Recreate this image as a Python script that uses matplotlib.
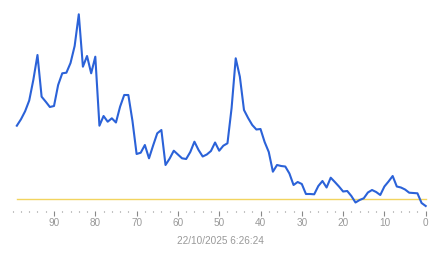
import numpy as np
import matplotlib
matplotlib.use('Agg')
import matplotlib.pyplot as plt
from matplotlib.ticker import MultipleLocator, FixedLocator

ages = list(range(99, -1, -1))
levels = [85.3, 91.7, 99.7, 110.5, 131.2, 156.0, 114.3, 109.3, 104.0, 105.0,
          126.0, 137.7, 138.3, 148.0, 165.0, 196.7, 144.3, 155.0, 137.7, 154.3,
          85.3, 95.0, 89.3, 92.7, 88.5, 104.3, 116.0, 116.0, 90.0, 57.0,
          58.3, 66.0, 52.7, 65.5, 77.7, 81.0, 46.0, 52.4, 60.3, 56.5,
          52.7, 52.0, 59.0, 69.3, 61.0, 54.5, 56.5, 60.0, 68.5, 60.3,
          65.3, 67.7, 103.0, 152.7, 134.3, 101.0, 93.0, 86.0, 81.5, 82.0,
          69.0, 59.0, 39.3, 46.0, 45.0, 44.5, 37.5, 26.0, 29.0, 27.0,
          17.0, 17.0, 16.7, 25.0, 30.0, 23.5, 33.3, 29.0, 24.5, 19.5,
          20.0, 15.0, 8.5, 11.0, 12.7, 18.5, 21.0, 19.0, 16.0, 24.5,
          29.5, 35.0, 24.5, 23.5, 21.5, 18.3, 18.0, 17.7, 8.0, 5.0]
threshold = 11.7
major_ticks = [90, 80, 70, 60, 50, 40, 30, 20, 10, 0]
timestamp = '22/10/2025 6:26:24'

plt.rcParams['font.family'] = ['Liberation Sans', 'DejaVu Sans']

fig = plt.figure(figsize=(4.43, 2.58), dpi=100)
ax = fig.add_axes([12 / 443, 47 / 258, 418 / 443, 206 / 258])

ax.plot(ages, [threshold] * len(ages), color='#f2d45e', linewidth=1.0, zorder=1)
ax.plot(ages, levels, color='#2b62d8', linewidth=1.5, zorder=2)

ax.set_xlim(100.17, -1.04)
ax.set_ylim(0, 206)

for s in ax.spines.values():
    s.set_visible(False)
ax.set_yticks([])
ax.xaxis.set_major_locator(FixedLocator(major_ticks))
ax.xaxis.set_minor_locator(MultipleLocator(2))
ax.tick_params(axis='x', which='major', length=3.6, width=0.8, color='#888888',
               labelsize=7.2, labelcolor='#999999', pad=1.5)
ax.tick_params(axis='x', which='minor', length=1.0, width=0.8, color='#888888')

fig.text(220 / 443, (258 - 241) / 258, timestamp, ha='center', va='center',
         fontsize=7.2, color='#999999')

fig.savefig('out.png', dpi=100)
